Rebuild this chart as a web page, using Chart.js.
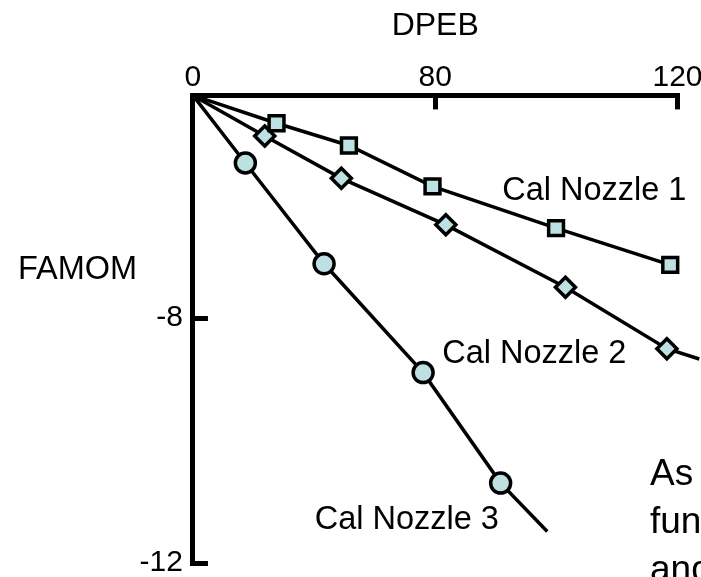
<!DOCTYPE html>
<html>
<head>
<meta charset="utf-8">
<script src="https://cdn.jsdelivr.net/npm/chart.js@4.4.0/dist/chart.umd.min.js"></script>
<style>
  html, body { margin: 0; padding: 0; background: #fff; }
  #wrap { width: 701px; height: 577px; }
</style>
</head>
<body>
<div id="wrap"><canvas id="myChart"></canvas></div>
<script>
// tick positions (internal units) and the labels printed on them
const xTicks = [0, 80, 160];
const xTickLabels = ["0", "80", "120"];
const yTicks = [-16.8, -8];
const yTickLabels = ["-12", "-8"];

// first point is the common origin
const nozzle1X = [0, 27.6, 51.5, 79.1, 119.9, 157.6];
const nozzle1Y = [0, -1.0, -1.8, -3.27, -4.77, -6.09];
const nozzle2X = [0, 23.7, 49.0, 83.5, 123.0, 156.5, 167.2];
const nozzle2Y = [0, -1.46, -2.98, -4.65, -6.89, -9.10, -9.47];
const nozzle3X = [0, 17.3, 43.3, 76.0, 101.6, 117.0];
const nozzle3Y = [0, -2.43, -6.05, -9.96, -13.93, -15.67];

const seriesNames = ["Cal Nozzle 1", "Cal Nozzle 2", "Cal Nozzle 3"];
const nameX = [102.1, 82.3, 40.2];
const nameY = [-3.75, -9.61, -15.58];

const FONT = "'Liberation Sans', Arial, sans-serif";
const fill = "#bde0e3";

const toPoints = (xs, ys) => xs.map((x, i) => ({ x: x, y: ys[i] }));

const notes = {
  id: "notes",
  afterDraw(chart) {
    const { ctx, scales: { x, y } } = chart;
    ctx.save();
    ctx.fillStyle = "#000";
    ctx.textBaseline = "alphabetic";
    ctx.font = "32.5px " + FONT;
    seriesNames.forEach((n, i) => {
      ctx.fillText(n, x.getPixelForValue(nameX[i]), y.getPixelForValue(nameY[i]));
    });
    ctx.fillText("FAMOM", 18, 279);
    ctx.font = "37px " + FONT;
    ["As", "fun", "and"].forEach((t, i) => ctx.fillText(t, 650, 485 + i * 48));
    ctx.restore();
  }
};

const line = (pts, style, radii) => ({
  data: pts,
  showLine: true,
  tension: 0,
  clip: false,
  borderColor: "#000",
  borderWidth: 3.5,
  pointStyle: style,
  pointRadius: radii,
  pointBackgroundColor: fill,
  pointBorderColor: "#000",
  pointBorderWidth: 3.5
});

const ctx = document.getElementById("myChart").getContext("2d");
const myChart = new Chart(ctx, {
  type: "scatter",
  data: {
    datasets: [
      line(toPoints(nozzle1X, nozzle1Y), "rect", [0, 10.5, 10.5, 10.5, 10.5, 10.5]),
      line(toPoints(nozzle2X, nozzle2Y), "rectRot", [0, 10, 10, 10, 10, 10, 0]),
      line(toPoints(nozzle3X, nozzle3Y), "circle", [0, 10, 10, 10, 10, 0])
    ]
  },
  plugins: [notes],
  options: {
    responsive: true,
    maintainAspectRatio: false,
    animation: false,
    layout: { padding: { left: 114.6, top: 0, right: 0, bottom: 0 } },
    plugins: { legend: { display: false }, tooltip: { enabled: false } },
    scales: {
      x: {
        type: "linear",
        position: "top",
        min: 0,
        max: 160,
        afterBuildTicks: (s) => { s.ticks = xTicks.map((v) => ({ value: v })); },
        afterFit: (s) => { s.paddingRight = 23.5; },
        ticks: {
          padding: 14,
          color: "#000",
          font: { family: FONT, size: 30 },
          callback: (v) => xTickLabels[xTicks.indexOf(v)]
        },
        grid: {
          display: true,
          drawOnChartArea: false,
          drawTicks: true,
          tickLength: -14,
          tickWidth: 5,
          tickColor: "#000"
        },
        border: { display: true, color: "#000", width: 5 },
        title: {
          display: true,
          text: "DPEB",
          color: "#000",
          font: { family: FONT, size: 32 },
          padding: { top: 7, bottom: 0 }
        }
      },
      y: {
        type: "linear",
        position: "left",
        min: -16.8,
        max: 0,
        afterBuildTicks: (s) => { s.ticks = yTicks.map((v) => ({ value: v })); },
        afterFit: (s) => { s.paddingBottom = 14; },
        ticks: {
          padding: 25,
          color: "#000",
          font: { family: FONT, size: 30 },
          callback: (v) => yTickLabels[yTicks.indexOf(v)]
        },
        grid: {
          display: true,
          drawOnChartArea: false,
          drawTicks: true,
          tickLength: -15,
          tickWidth: 5,
          tickColor: "#000"
        },
        border: { display: true, color: "#000", width: 5 }
      }
    }
  }
});
</script>
</body>
</html>
